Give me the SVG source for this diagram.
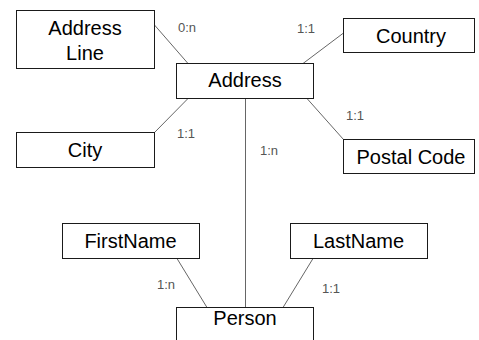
<svg xmlns="http://www.w3.org/2000/svg" width="479" height="340" viewBox="0 0 479 340">
  <style>
    .box { fill: #ffffff; stroke: #1a1a1a; stroke-width: 1; }
    .lbl { font-family: "Liberation Sans", Arial, sans-serif; font-size: 20px; fill: #000; text-anchor: middle; }
    .card { font-family: "Liberation Sans", Arial, sans-serif; font-size: 13px; fill: #555; }
    .link { stroke: #666; stroke-width: 1; fill: none; }
  </style>
  <rect width="479" height="340" fill="#ffffff"/>

  <g id="connectors">
    <line class="link" x1="154.5" y1="25" x2="188" y2="63.5"/>
    <line class="link" x1="343.5" y1="33" x2="303" y2="63.5"/>
    <line class="link" x1="188" y1="98.5" x2="154.5" y2="132.5"/>
    <line class="link" x1="307" y1="98.5" x2="343.5" y2="139.5"/>
    <line class="link" x1="245.5" y1="98.5" x2="245.5" y2="307.5"/>
    <line class="link" x1="177" y1="258.5" x2="207" y2="307.5"/>
    <line class="link" x1="313" y1="258.5" x2="283" y2="307.5"/>
    <text class="card" x="178" y="32">0:n</text>
    <text class="card" x="297" y="33">1:1</text>
    <text class="card" x="177" y="138">1:1</text>
    <text class="card" x="346" y="120">1:1</text>
    <text class="card" x="260" y="155">1:n</text>
    <text class="card" x="157" y="289">1:n</text>
    <text class="card" x="322" y="293">1:1</text>
  </g>

  <g id="address-line">
    <rect class="box" x="16.5" y="10.5" width="138" height="58"/>
    <text class="lbl" x="85" y="35">Address</text>
    <text class="lbl" x="85" y="60">Line</text>
  </g>
  <g id="address">
    <rect class="box" x="176.5" y="63.5" width="137" height="35"/>
    <text class="lbl" x="245" y="87">Address</text>
  </g>
  <g id="country">
    <rect class="box" x="343.5" y="18.5" width="131" height="34"/>
    <text class="lbl" x="411" y="43">Country</text>
  </g>
  <g id="city">
    <rect class="box" x="16.5" y="132.5" width="138" height="35"/>
    <text class="lbl" x="85" y="157">City</text>
  </g>
  <g id="postal-code">
    <rect class="box" x="343.5" y="139.5" width="131" height="34"/>
    <text class="lbl" x="411" y="164">Postal Code</text>
  </g>
  <g id="first-name">
    <rect class="box" x="62.5" y="223.5" width="137" height="35"/>
    <text class="lbl" x="130.5" y="248">FirstName</text>
  </g>
  <g id="last-name">
    <rect class="box" x="290.5" y="223.5" width="137" height="35"/>
    <text class="lbl" x="358.5" y="248">LastName</text>
  </g>
  <g id="person">
    <rect class="box" x="176.5" y="307.5" width="137" height="40"/>
    <text class="lbl" x="245" y="325">Person</text>
  </g>
</svg>
